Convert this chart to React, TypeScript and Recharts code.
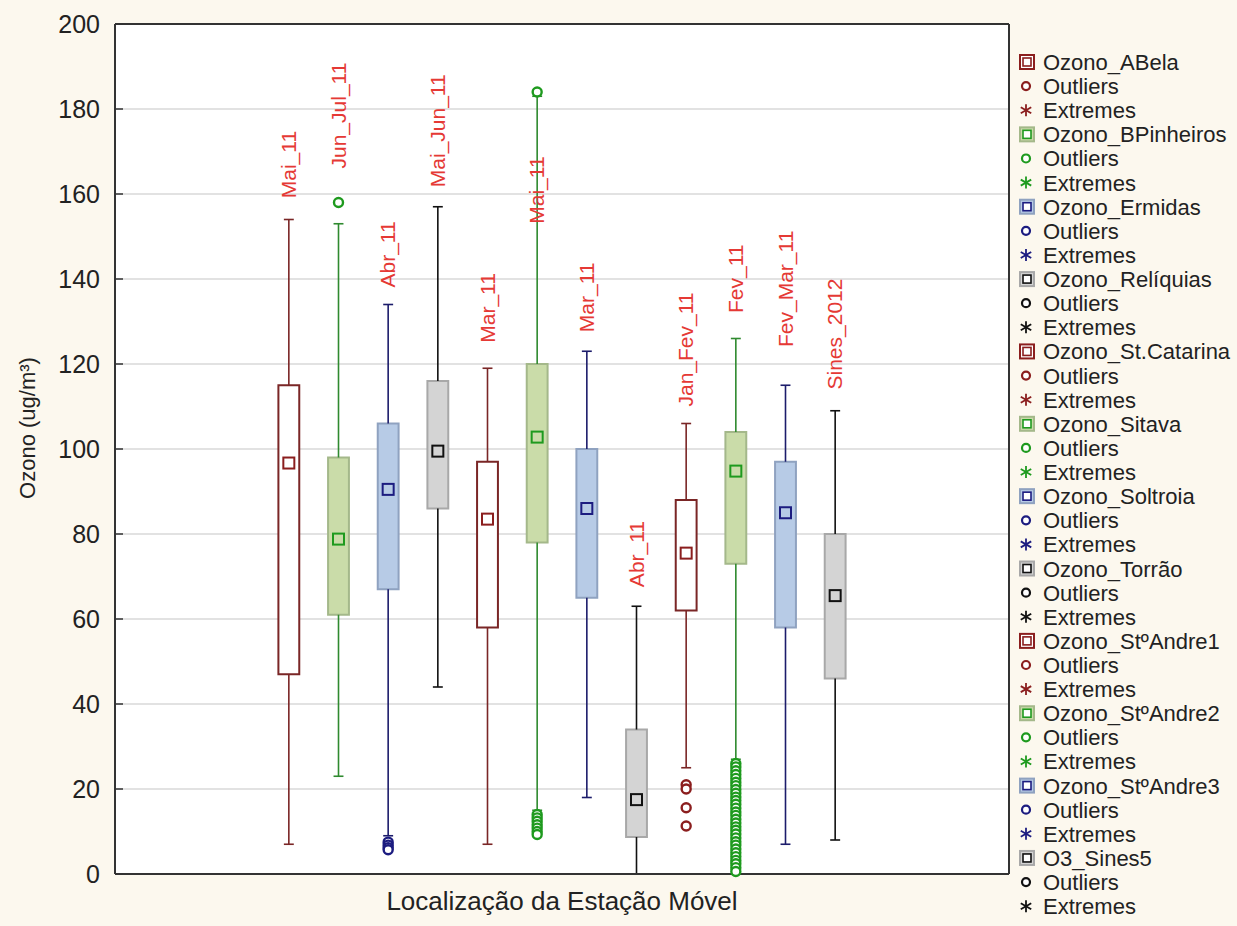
import React from "react";
import {
  ComposedChart,
  XAxis,
  YAxis,
  CartesianGrid,
  Scatter,
  ReferenceArea,
  ReferenceLine,
  ReferenceDot,
  Legend,
} from "recharts";

const stations = [
  "Ozono_ABela",
  "Ozono_BPinheiros",
  "Ozono_Ermidas",
  "Ozono_Relíquias",
  "Ozono_St.Catarina",
  "Ozono_Sitava",
  "Ozono_Soltroia",
  "Ozono_Torrão",
  "Ozono_StºAndre1",
  "Ozono_StºAndre2",
  "Ozono_StºAndre3",
  "O3_Sines5",
];
const periods = ["Mai_11", "Jun_Jul_11", "Abr_11", "Mai_Jun_11", "Mar_11", "Mai_11", "Mar_11", "Abr_11", "Jan_Fev_11", "Fev_11", "Fev_Mar_11", "Sines_2012"];

const whiskerHigh = [154, 153, 134, 157, 119, 183, 123, 63, 106, 126, 115, 109];
const q3 = [115, 98, 106, 116, 97, 120, 100, 34, 88, 104, 97, 80];
const medians = [96.7, 78.8, 90.5, 99.5, 83.5, 102.8, 86, 17.5, 75.5, 94.8, 85, 65.5];
const q1 = [47, 61, 67, 86, 58, 78, 65, 8.7, 62, 73, 58, 46];
const whiskerLow = [7, 23, 9, 44, 7, 15, 18, 0, 25, 27, 7, 8];
// value where each rotated period label starts
const labelAt = [159, 166, 138, 161.6, 125, 153, 127.5, 67.5, 110, 132, 124, 114];

const outliers: number[][] = [
  [],
  [158],
  [7.5, 6.8, 6.2, 5.7],
  [],
  [],
  [184, 14, 13.2, 12.4, 11.6, 10.8, 10, 9.3],
  [],
  [],
  [21, 20, 15.6, 11.3],
  [26, 25.2, 24.3, 23.4, 22.5, 21.6, 20.8, 19.9, 19, 18.1, 17.3, 16.4, 15.5, 14.6, 13.8, 12.9, 12, 11.1, 10.3, 9.4, 8.5, 7.6, 6.8, 5.9, 5, 4.1, 3.2, 2.4, 1.5, 0.6],
  [],
  [],
];

const palette = [
  { box: "#FFFFFF", edge: "#7A2626", line: "#7A2626", mark: "#8B1E1E" },
  { box: "#CADCA9", edge: "#A4B88A", line: "#2F8A2F", mark: "#1E9A1E" },
  { box: "#B7CBE6", edge: "#8FA2C0", line: "#1C1C6B", mark: "#1C1C80" },
  { box: "#D4D4D4", edge: "#A8A8A8", line: "#111111", mark: "#111111" },
];

const FONT = '"Liberation Sans", Arial, sans-serif';
const BOX_HALF = 0.21;
const CAP_HALF = 0.1;

const medianRows = medians.map((m, i) => ({ x: i, y: m, color: palette[i % 4].mark }));
const outlierRows = outliers.flatMap((list, i) => list.map((v) => ({ x: i, y: v, color: palette[i % 4].mark })));

function MedianMark(props: any) {
  const { cx, cy, payload } = props;
  return <rect x={cx - 5.5} y={cy - 5.5} width={11} height={11} fill="none" stroke={payload.color} strokeWidth={2} />;
}

function OutlierMark(props: any) {
  const { cx, cy, payload } = props;
  return <circle cx={cx} cy={cy} r={4.5} fill="#fff" stroke={payload.color} strokeWidth={2.4} />;
}

function LeftTick(props: any) {
  const { x, y, payload } = props;
  return (
    <g>
      <line x1={x} x2={x + 8} y1={y} y2={y} stroke="#333" strokeWidth={1.5} />
      <text x={x - 15} y={y} dy={9} textAnchor="end" fontSize={25} fontFamily={FONT} fill="#222">
        {payload.value}
      </text>
    </g>
  );
}

function RightTick(props: any) {
  const { x, y } = props;
  return <line x1={x - 8} x2={x} y1={y} y2={y} stroke="#333" strokeWidth={1.5} />;
}

function Asterisk({ cx, cy, color }: { cx: number; cy: number; color: string }) {
  const r = 6;
  return (
    <g stroke={color} strokeWidth={1.8}>
      <line x1={cx} x2={cx} y1={cy - r} y2={cy + r} />
      <line x1={cx - r * 0.87} x2={cx + r * 0.87} y1={cy - r / 2} y2={cy + r / 2} />
      <line x1={cx - r * 0.87} x2={cx + r * 0.87} y1={cy + r / 2} y2={cy - r / 2} />
    </g>
  );
}

function LegendBox() {
  const rowH = 24.12;
  const mx = 15;
  const tx = 31;
  const items: React.ReactNode[] = [];
  stations.forEach((name, i) => {
    const p = palette[i % 4];
    const y0 = 14 + i * 3 * rowH;
    items.push(
      <g key={name}>
        <rect x={mx - 7} y={y0 - 7} width={14} height={14} fill={p.box} stroke={p.box === "#FFFFFF" ? p.mark : p.edge} strokeWidth={2} />
        <rect x={mx - 4} y={y0 - 4} width={8} height={8} fill="#fff" stroke={p.mark} strokeWidth={1.6} />
        <text x={tx} y={y0 + 8} fontSize={22} fontFamily={FONT} fill="#222">{name}</text>
        <circle cx={mx - 1} cy={y0 + rowH} r={4} fill="#fff" stroke={p.mark} strokeWidth={2.2} />
        <text x={tx} y={y0 + rowH + 8} fontSize={22} fontFamily={FONT} fill="#222">Outliers</text>
        <Asterisk cx={mx - 1} cy={y0 + 2 * rowH} color={p.mark} />
        <text x={tx} y={y0 + 2 * rowH + 8} fontSize={22} fontFamily={FONT} fill="#222">Extremes</text>
      </g>
    );
  });
  return (
    <svg width={225} height={870} style={{ display: "block" }}>
      {items}
    </svg>
  );
}

export default function App() {
  return (
    <div style={{ position: "absolute", left: 0, top: 0, width: 1237, height: 926, background: "#FCF8EE" }}>
      <ComposedChart width={1237} height={926} margin={{ top: 23, right: 227, bottom: 51, left: 55 }}>
        <CartesianGrid vertical={false} stroke="#D8D8D8" strokeWidth={1.5} fill="#FFFFFF" />
        <XAxis
          dataKey="x"
          type="number"
          domain={[-3.5, 14.5]}
          allowDataOverflow
          tick={false}
          tickLine={false}
          height={1}
          axisLine={{ stroke: "#333", strokeWidth: 2 }}
          label={{ value: "Localização da Estação Móvel", position: "bottom", offset: 17, fontSize: 26, fill: "#222", fontFamily: FONT }}
        />
        <XAxis xAxisId="top" orientation="top" dataKey="x" type="number" domain={[-3.5, 14.5]} allowDataOverflow tick={false} tickLine={false} height={1} axisLine={{ stroke: "#333", strokeWidth: 2 }} />
        <YAxis
          type="number"
          domain={[0, 200]}
          ticks={[0, 20, 40, 60, 80, 100, 120, 140, 160, 180, 200]}
          width={60}
          tickSize={0}
          tickMargin={0}
          tickLine={false}
          tick={<LeftTick />}
          axisLine={{ stroke: "#333", strokeWidth: 2 }}
          label={{
            content: () => (
              <text x={35} y={428} transform="rotate(-90 35 428)" textAnchor="middle" fontSize={22} fontFamily={FONT} fill="#222">
                Ozono (ug/m³)
              </text>
            ),
          }}
        />
        <YAxis
          yAxisId="right"
          orientation="right"
          type="number"
          domain={[0, 200]}
          ticks={[20, 40, 60, 80, 100, 120, 140, 160, 180]}
          width={1}
          tickSize={0}
          tickMargin={0}
          tickLine={false}
          tick={<RightTick />}
          axisLine={{ stroke: "#333", strokeWidth: 2 }}
        />

        {stations.map((s, i) => {
          const p = palette[i % 4];
          return (
            <React.Fragment key={s}>
              <ReferenceLine segment={[{ x: i, y: q3[i] }, { x: i, y: whiskerHigh[i] }]} stroke={p.line} strokeWidth={1.6} />
              <ReferenceLine segment={[{ x: i - CAP_HALF, y: whiskerHigh[i] }, { x: i + CAP_HALF, y: whiskerHigh[i] }]} stroke={p.line} strokeWidth={1.6} />
              <ReferenceLine segment={[{ x: i, y: q1[i] }, { x: i, y: whiskerLow[i] }]} stroke={p.line} strokeWidth={1.6} />
              <ReferenceLine segment={[{ x: i - CAP_HALF, y: whiskerLow[i] }, { x: i + CAP_HALF, y: whiskerLow[i] }]} stroke={p.line} strokeWidth={1.6} />
              <ReferenceArea x1={i - BOX_HALF} x2={i + BOX_HALF} y1={q1[i]} y2={q3[i]} fill={p.box} fillOpacity={1} stroke={p.edge} strokeWidth={2} />
            </React.Fragment>
          );
        })}

        <Scatter data={medianRows} dataKey="y" shape={<MedianMark />} isAnimationActive={false} />
        <Scatter data={outlierRows} dataKey="y" shape={<OutlierMark />} isAnimationActive={false} />

        {periods.map((label, i) => (
          <ReferenceDot
            key={"lbl" + i}
            x={i}
            y={labelAt[i]}
            r={0}
            shape={(p: any) => (
              <text
                x={p.cx}
                y={p.cy}
                dy={7}
                transform={`rotate(-90 ${p.cx} ${p.cy})`}
                fontSize={21}
                fontFamily={FONT}
                fill="#E53935"
              >
                {label}
              </text>
            )}
          />
        ))}

        <Legend
          layout="vertical"
          align="center"
          verticalAlign="middle"
          content={() => <LegendBox />}
          wrapperStyle={{ position: "absolute", left: 1012, top: 48, width: 225, height: 870 }}
        />
      </ComposedChart>
    </div>
  );
}
